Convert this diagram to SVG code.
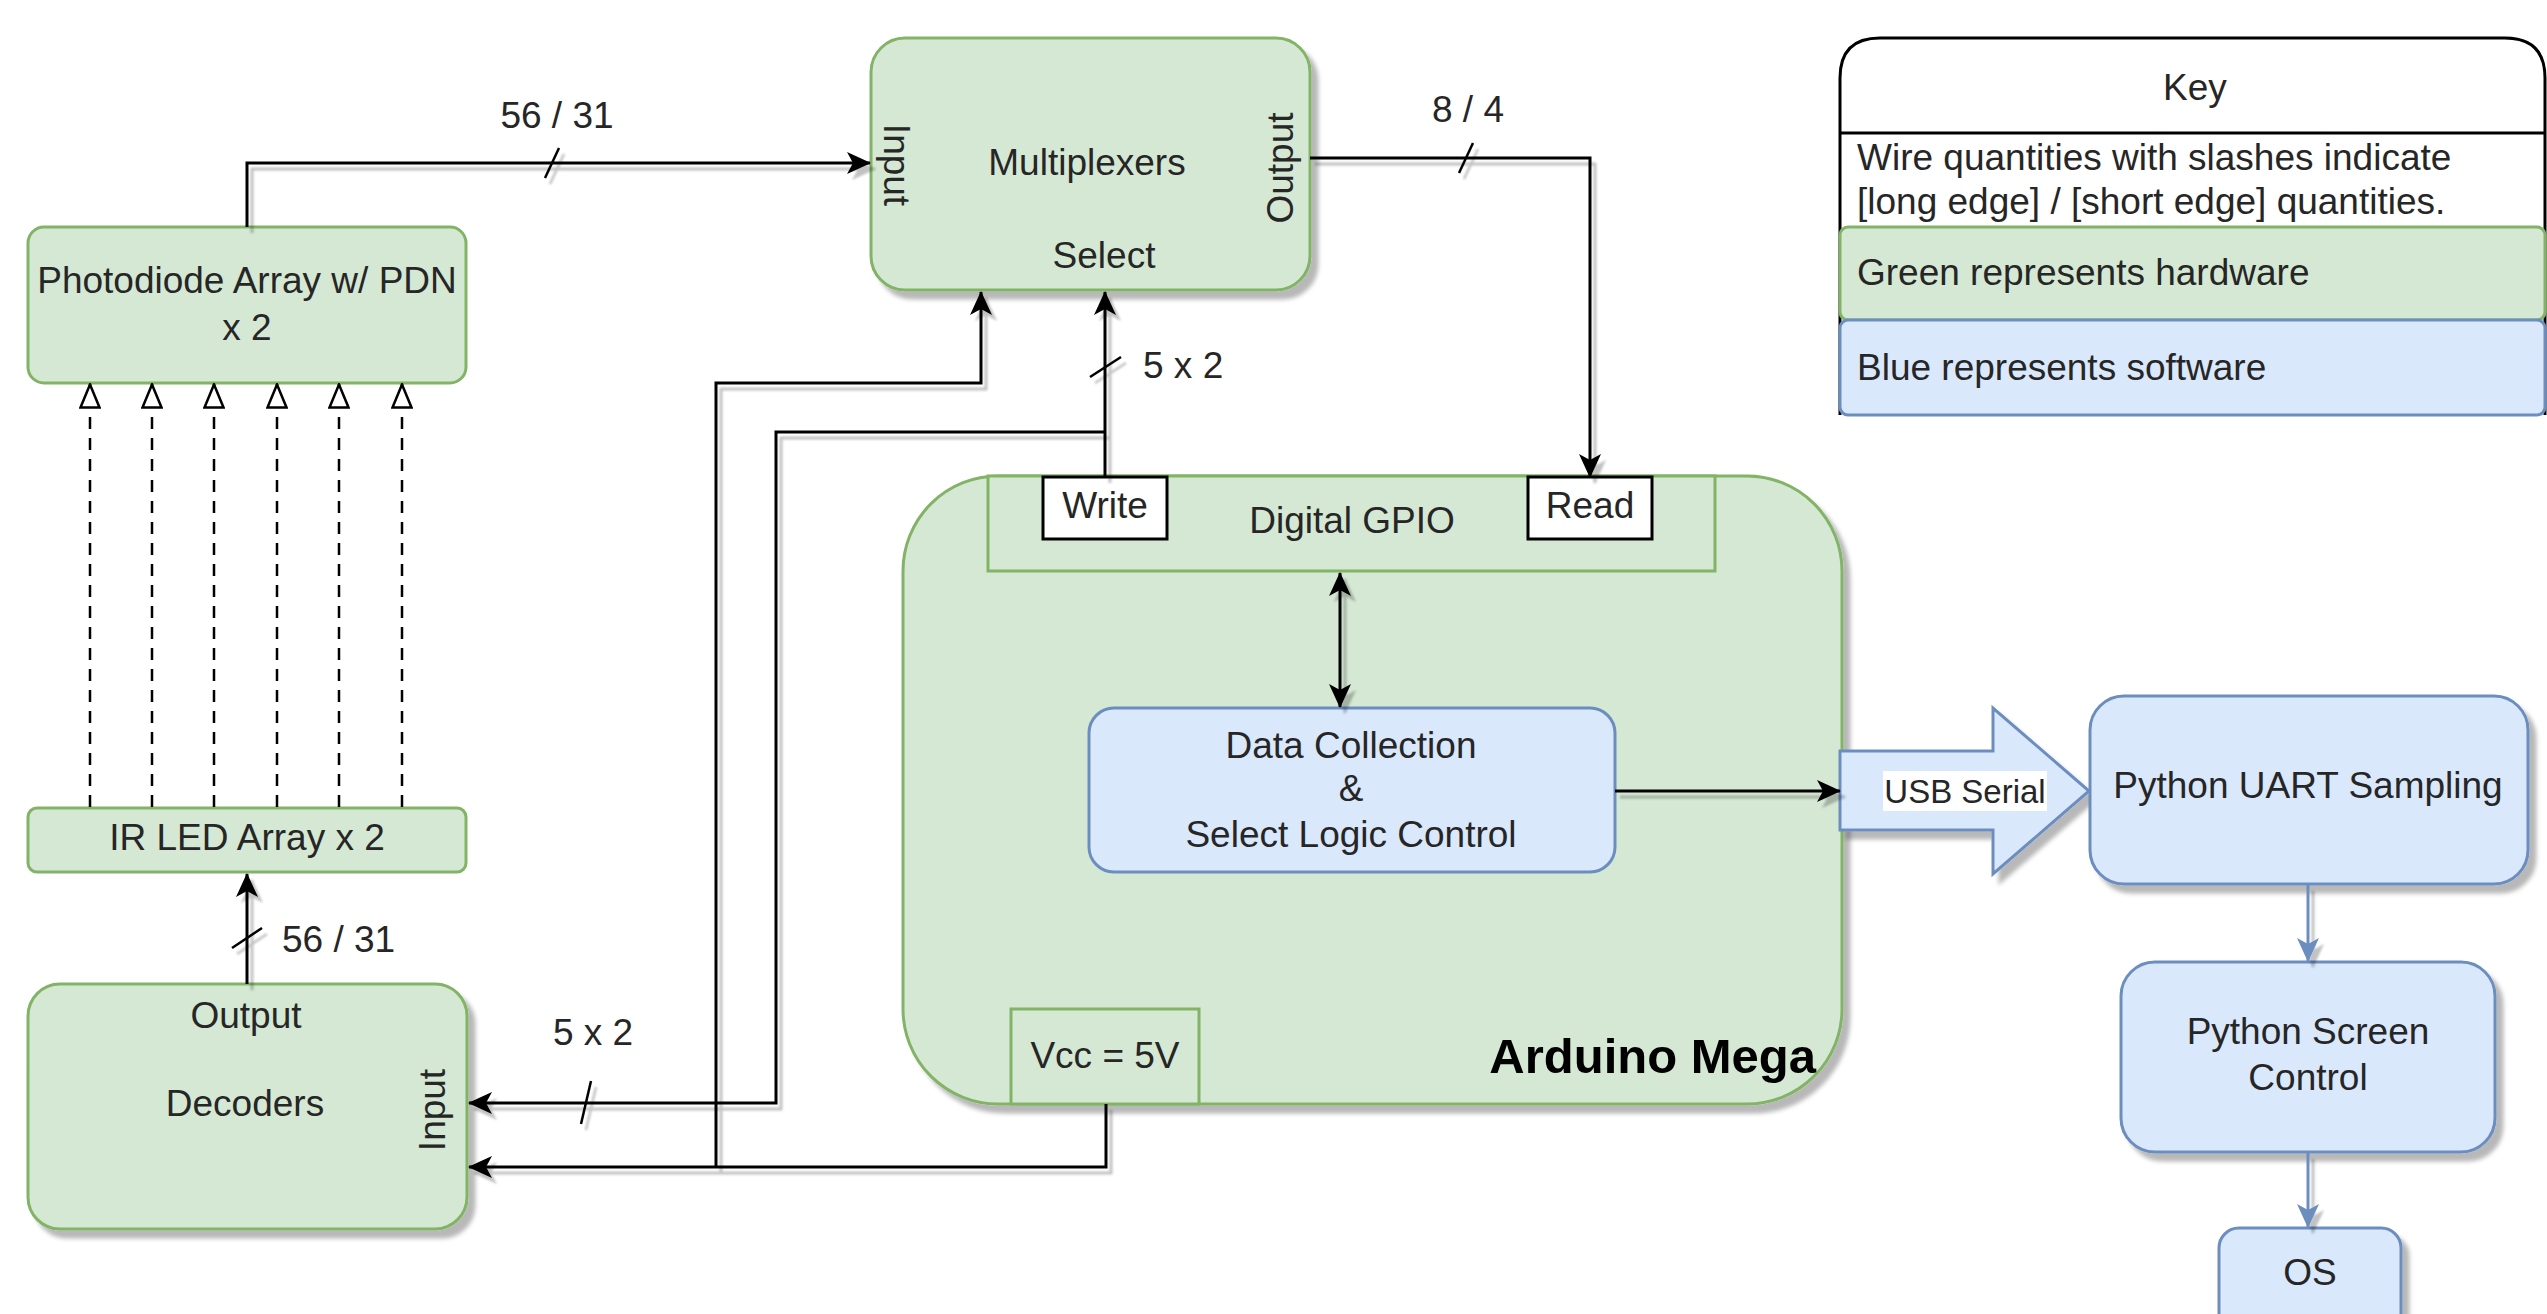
<svg xmlns="http://www.w3.org/2000/svg" width="2547" height="1314" viewBox="0 0 2547 1314">
  <style>
    text { font-family: "Liberation Sans", Arial, sans-serif; font-size: 37px; fill: #262626; }
    .c { text-anchor: middle; }
    .hw { fill: #d5e8d4; stroke: #82b366; stroke-width: 3; }
    .sw { fill: #dae8fc; stroke: #6c8ebf; stroke-width: 3; }
    .pin { fill: #ffffff; stroke: #000000; stroke-width: 3; }
    .wire { fill: none; stroke: #000000; stroke-width: 3; }
    .swwire { fill: none; stroke: #6c8ebf; stroke-width: 3; }
    .beam { fill: none; stroke: #000000; stroke-width: 2.5; stroke-dasharray: 12 9; }
    .tick { stroke: #000000; stroke-width: 2.5; }
  </style>
  <defs>
    <filter id="nodeShadow" filterUnits="userSpaceOnUse" x="0" y="0" width="2547" height="1314">
      <feDropShadow dx="7" dy="8" stdDeviation="2" flood-color="#000" flood-opacity="0.28"/>
    </filter>
    <filter id="wireShadow" filterUnits="userSpaceOnUse" x="0" y="0" width="2547" height="1314">
      <feDropShadow dx="5" dy="6" stdDeviation="1" flood-color="#000" flood-opacity="0.24"/>
    </filter>
    <marker id="arrow" viewBox="0 0 24 22" refX="23" refY="11" markerWidth="24" markerHeight="22" markerUnits="userSpaceOnUse" orient="auto-start-reverse">
      <path d="M0,0 L24,11 L0,22 L6,11 Z" fill="#000"/>
    </marker>
    <marker id="arrowBlue" viewBox="0 0 24 22" refX="23" refY="11" markerWidth="24" markerHeight="22" markerUnits="userSpaceOnUse" orient="auto">
      <path d="M0,0 L24,11 L0,22 L6,11 Z" fill="#6c8ebf"/>
    </marker>
    <marker id="openArrow" viewBox="0 0 26 22" refX="25" refY="11" markerWidth="26" markerHeight="22" markerUnits="userSpaceOnUse" orient="auto">
      <path d="M1.5,1.5 L24.5,11 L1.5,20.5 Z" fill="#fff" stroke="#000" stroke-width="2.5"/>
    </marker>
  </defs>

  <rect width="2547" height="1314" fill="#ffffff"/>

  <!-- Key / legend -->
  <g id="key">
    <path d="M1840,415 L1840,78 Q1840,38 1880,38 L2505,38 Q2545,38 2545,78 L2545,415" fill="#ffffff" stroke="#000" stroke-width="3"/>
    <line x1="1840" y1="133" x2="2545" y2="133" stroke="#000" stroke-width="3"/>
    <text class="c" x="2195" y="100">Key</text>
    <text x="1857" y="170">Wire quantities with slashes indicate</text>
    <text x="1857" y="214">[long edge] / [short edge] quantities.</text>
    <rect class="hw" x="1840" y="227" width="705" height="93" rx="8"/>
    <text x="1857" y="285">Green represents hardware</text>
    <rect class="sw" x="1840" y="320" width="705" height="95" rx="8"/>
    <text x="1857" y="380">Blue represents software</text>
  </g>

  <!-- Hardware blocks -->
  <g id="photodiode-array">
    <rect class="hw" x="28" y="227" width="438" height="156" rx="16"/>
    <text class="c" x="247" y="293">Photodiode Array w/ PDN</text>
    <text class="c" x="247" y="340">x 2</text>
  </g>

  <g id="ir-led-array">
    <rect class="hw" x="28" y="808" width="438" height="64" rx="9"/>
    <text class="c" x="247" y="850">IR LED Array x 2</text>
  </g>

  <g id="decoders">
    <rect class="hw" x="28" y="984" width="439" height="245" rx="32" filter="url(#nodeShadow)"/>
    <text class="c" x="246" y="1028">Output</text>
    <text class="c" x="245" y="1116">Decoders</text>
    <text class="c" transform="translate(445,1110) rotate(-90)">Input</text>
  </g>

  <g id="multiplexers">
    <rect class="hw" x="871" y="38" width="439" height="252" rx="34" filter="url(#nodeShadow)"/>
    <text class="c" x="1087" y="175">Multiplexers</text>
    <text class="c" x="1104" y="268">Select</text>
    <text class="c" transform="translate(884,165) rotate(90)">Input</text>
    <text class="c" transform="translate(1293,168) rotate(-90)">Output</text>
  </g>

  <g id="arduino-mega">
    <rect class="hw" x="903" y="476" width="939" height="628" rx="95" filter="url(#nodeShadow)"/>
    <text x="1816" y="1073" style="font-size:49px;font-weight:bold;text-anchor:end;fill:#000">Arduino Mega</text>
  </g>

  <g id="digital-gpio">
    <rect class="hw" x="988" y="476" width="727" height="95"/>
    <text class="c" x="1352" y="533">Digital GPIO</text>
  </g>

  <g id="gpio-write">
    <rect class="pin" x="1043" y="477" width="124" height="62"/>
    <text class="c" x="1105" y="518">Write</text>
  </g>

  <g id="gpio-read">
    <rect class="pin" x="1528" y="477" width="124" height="62"/>
    <text class="c" x="1590" y="518">Read</text>
  </g>

  <g id="vcc">
    <rect class="hw" x="1011" y="1009" width="188" height="95"/>
    <text class="c" x="1105" y="1068">Vcc = 5V</text>
  </g>

  <!-- Software blocks -->
  <g id="data-collection">
    <rect class="sw" x="1089" y="708" width="526" height="164" rx="25"/>
    <text class="c" x="1351" y="758">Data Collection</text>
    <text class="c" x="1351" y="801">&amp;</text>
    <text class="c" x="1351" y="847">Select Logic Control</text>
  </g>

  <g id="usb-serial">
    <path class="sw" d="M1840,751 L1993,751 L1993,708 L2089,791 L1993,874 L1993,830 L1840,830 Z" filter="url(#nodeShadow)"/>
    <rect x="1883" y="771" width="164" height="40" fill="#ffffff"/>
    <text class="c" x="1965" y="803" style="font-size:33px">USB Serial</text>
  </g>

  <g id="python-uart">
    <rect class="sw" x="2090" y="696" width="438" height="188" rx="34" filter="url(#nodeShadow)"/>
    <text class="c" x="2308" y="798">Python UART Sampling</text>
  </g>

  <g id="python-screen">
    <rect class="sw" x="2121" y="962" width="374" height="190" rx="34" filter="url(#nodeShadow)"/>
    <text class="c" x="2308" y="1044">Python Screen</text>
    <text class="c" x="2308" y="1090">Control</text>
  </g>

  <g id="os">
    <rect class="sw" x="2219" y="1228" width="182" height="110" rx="20" filter="url(#nodeShadow)"/>
    <text class="c" x="2310" y="1285">OS</text>
  </g>

  <!-- Connectors -->
  <g id="connectors">
    <!-- IR beams from LED array to photodiodes -->
    <g id="beams">
      <line class="beam" x1="90" y1="807" x2="90" y2="384" marker-end="url(#openArrow)"/>
      <line class="beam" x1="152" y1="807" x2="152" y2="384" marker-end="url(#openArrow)"/>
      <line class="beam" x1="214" y1="807" x2="214" y2="384" marker-end="url(#openArrow)"/>
      <line class="beam" x1="277" y1="807" x2="277" y2="384" marker-end="url(#openArrow)"/>
      <line class="beam" x1="339" y1="807" x2="339" y2="384" marker-end="url(#openArrow)"/>
      <line class="beam" x1="402" y1="807" x2="402" y2="384" marker-end="url(#openArrow)"/>
    </g>

    <g id="wires" filter="url(#wireShadow)">
      <!-- photodiodes to multiplexer input -->
      <path class="wire" d="M247,227 L247,163 L870,163" marker-end="url(#arrow)"/>
      <line class="tick" x1="545" y1="178" x2="559" y2="148"/>
      <!-- multiplexer output to GPIO read -->
      <path class="wire" d="M1310,158 L1590,158 L1590,477" marker-end="url(#arrow)"/>
      <line class="tick" x1="1459" y1="173" x2="1473" y2="143"/>
      <!-- GPIO write to multiplexer select -->
      <path class="wire" d="M1105,477 L1105,292" marker-end="url(#arrow)"/>
      <line class="tick" x1="1090" y1="377" x2="1121" y2="357"/>
      <!-- GPIO write to decoder input -->
      <path class="wire" d="M1105,432 L776,432 L776,1103 L469,1103" marker-end="url(#arrow)"/>
      <line class="tick" x1="581" y1="1124" x2="591" y2="1081"/>
      <!-- supply to decoders -->
      <path class="wire" d="M1106,1104 L1106,1167 L469,1167" marker-end="url(#arrow)"/>
      <!-- supply to multiplexers -->
      <path class="wire" d="M716,1167 L716,383 L981,383 L981,292" marker-end="url(#arrow)"/>
      <!-- decoders to LED array -->
      <path class="wire" d="M247,984 L247,874" marker-end="url(#arrow)"/>
      <line class="tick" x1="232" y1="948" x2="262" y2="928"/>
      <!-- GPIO <-> data collection -->
      <path class="wire" d="M1340,573 L1340,707" marker-start="url(#arrow)" marker-end="url(#arrow)"/>
      <!-- data collection to USB serial -->
      <path class="wire" d="M1615,791 L1840,791" marker-end="url(#arrow)"/>
      <!-- software chain -->
      <path class="swwire" d="M2308,885 L2308,961" marker-end="url(#arrowBlue)"/>
      <path class="swwire" d="M2308,1153 L2308,1227" marker-end="url(#arrowBlue)"/>
    </g>

    <g id="wire-labels">
      <text class="c" x="557" y="128">56 / 31</text>
      <text class="c" x="1468" y="122">8 / 4</text>
      <text x="1143" y="378">5 x 2</text>
      <text class="c" x="593" y="1045">5 x 2</text>
      <text x="282" y="952">56 / 31</text>
    </g>
  </g>
</svg>
